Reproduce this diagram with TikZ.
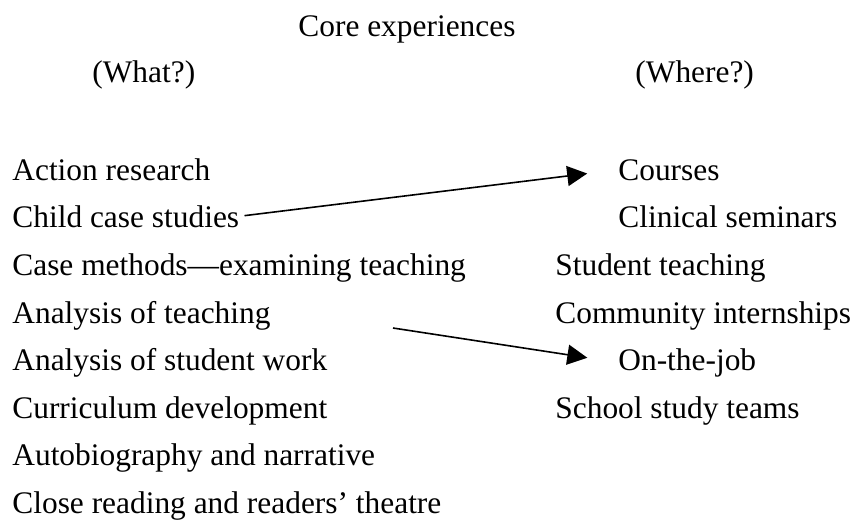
\documentclass[tikz,border=0pt]{standalone}
\usepackage{fontspec}
\setmainfont{Liberation Serif}
\usetikzlibrary{arrows.meta}
\tikzset{px/.style=
   {x=0.5pt, y=-0.5pt},
   item/.style={anchor=base west, inner sep=0pt, font=\fontsize{15.7}{19}\selectfont},
   link/.style={-{Triangle[length=10pt,width=10pt]}, line width=0.8pt}}

\begin{document}
\begin{tikzpicture}[px]
\useasboundingbox (0,0) rectangle (858,521);

\node[item] (core) at (298,36) {Core experiences};
\node[item] (what) at (92,82) {(What?)};
\node[item] (where) at (635,82) {(Where?)};

\node[item] (action) at (12,180) {Action research};
\node[item] (child) at (12,227) {Child case studies};
\node[item] (casem) at (12,275) {Case methods---examining teaching};
\node[item] (analt) at (12,323) {Analysis of teaching};
\node[item] (analw) at (12,370) {Analysis of student work};
\node[item] (curric) at (12,418) {Curriculum development};
\node[item] (autob) at (12,465) {Autobiography and narrative};
\node[item] (close) at (12,513) {Close reading and readers’ theatre};

\node[item] (courses) at (618,180) {Courses};
\node[item] (clinic) at (618,227) {Clinical seminars};
\node[item] (studt) at (555,275) {Student teaching};
\node[item] (commun) at (555,323) {Community internships};
\node[item] (onjob) at (618,370) {On-the-job};
\node[item] (school) at (555,418) {School study teams};

\coordinate (from2) at (393,328);
\draw[link, shorten <=2.5pt, shorten >=15.5pt] (child.east)--(courses.west);
\draw[link, shorten >=15.5pt] (from2)--(onjob.west);
\end{tikzpicture}
\end{document}
